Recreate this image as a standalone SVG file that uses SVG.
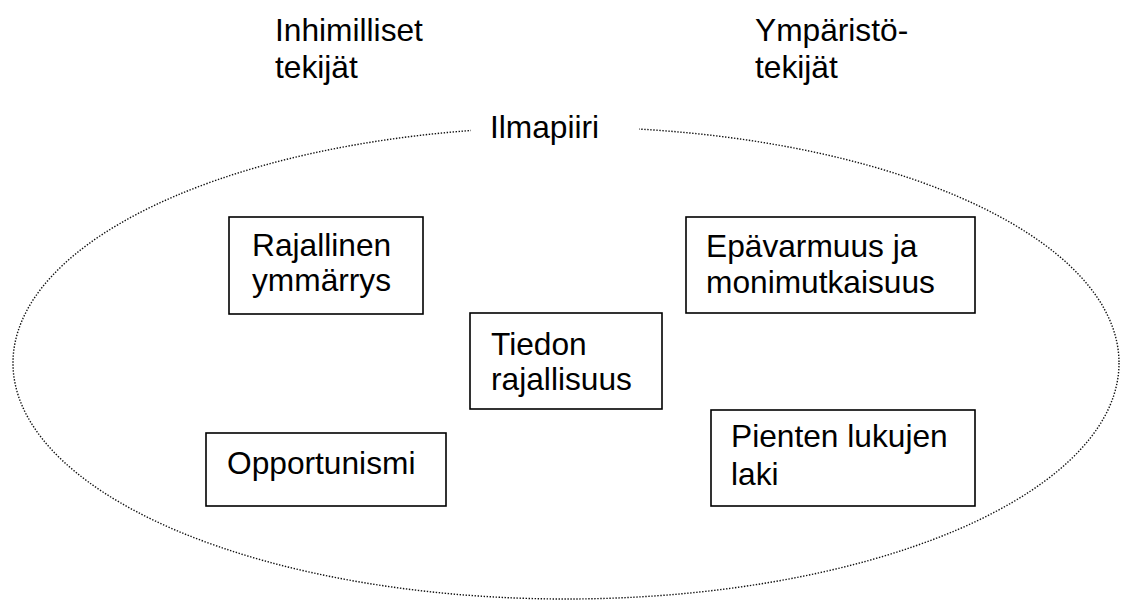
<svg xmlns="http://www.w3.org/2000/svg" width="1127" height="601" viewBox="0 0 1127 601">
  <style>
    text { font-family: "Liberation Sans", Arial, sans-serif; font-size: 31.7px; fill: #000; }
    .box { fill: #fff; stroke: #000; stroke-width: 1.6; }
    .atmo { fill: none; stroke: #111; stroke-width: 1.4; stroke-dasharray: 1.4 1.6; }
  </style>
  <rect width="1127" height="601" fill="#fff"/>

  <!-- column headings -->
  <g id="heading-human">
    <text x="275" y="41">Inhimilliset</text>
    <text x="275" y="78">tekijät</text>
  </g>
  <g id="heading-env">
    <text x="755" y="41">Ympäristö-</text>
    <text x="755" y="78">tekijät</text>
  </g>

  <!-- surrounding atmosphere -->
  <g id="atmosphere">
    <ellipse class="atmo" cx="566" cy="363" rx="553" ry="236"/>
    <rect x="471" y="115" width="168" height="30" fill="#fff"/>
    <text x="490" y="138">Ilmapiiri</text>
  </g>

  <g id="connectors"></g>

  <g id="rajallinen-ymmarrys">
    <rect class="box" x="229" y="217" width="194" height="97"/>
    <text x="252" y="256">Rajallinen</text>
    <text x="252" y="291">ymmärrys</text>
  </g>
  <g id="epavarmuus">
    <rect class="box" x="686" y="217" width="289" height="96"/>
    <text x="706" y="257">Epävarmuus ja</text>
    <text x="706" y="293">monimutkaisuus</text>
  </g>
  <g id="tiedon-rajallisuus">
    <rect class="box" x="470" y="313" width="192" height="96"/>
    <text x="491" y="355">Tiedon</text>
    <text x="491" y="390">rajallisuus</text>
  </g>
  <g id="opportunismi">
    <rect class="box" x="206" y="433" width="240" height="73"/>
    <text x="227" y="474">Opportunismi</text>
  </g>
  <g id="pienten-lukujen-laki">
    <rect class="box" x="711" y="410" width="264" height="96"/>
    <text x="731" y="447">Pienten lukujen</text>
    <text x="731" y="485">laki</text>
  </g>
</svg>
